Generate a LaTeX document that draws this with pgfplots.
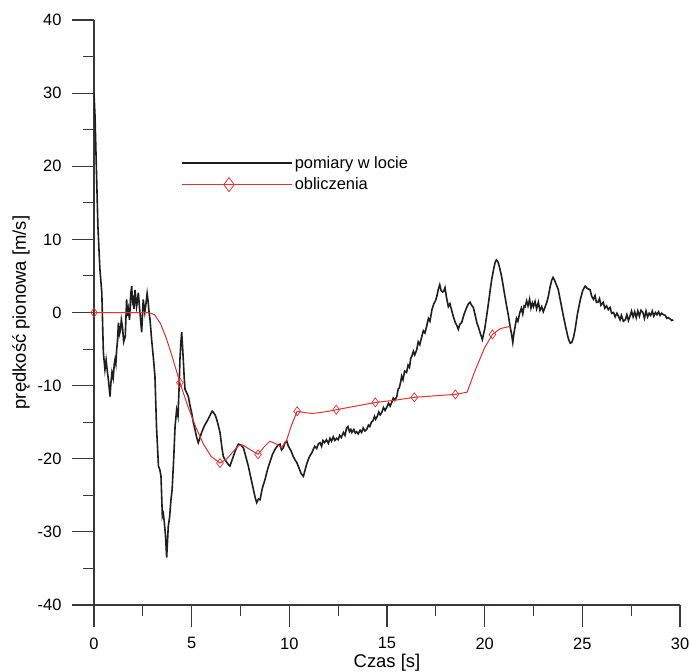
\documentclass[border=0pt]{standalone}
\usepackage{pgfplots}
\pgfplotsset{compat=1.18}
\usepackage{fontspec}
\setmainfont{Liberation Sans}
\definecolor{meas}{RGB}{30,30,30}
\definecolor{calc}{RGB}{232,48,48}
\definecolor{axc}{RGB}{60,55,55}
\begin{document}
\begin{tikzpicture}
\useasboundingbox (-94bp,-67bp) rectangle (596bp,605bp);
\begin{axis}[
 at={(0,0)}, anchor=south west,
 scale only axis, width=586bp, height=585bp,
 xmin=0, xmax=30, ymin=-40, ymax=40,
 axis x line=bottom, axis y line=left,
 axis line style={-, line width=1.1bp, axc},
 xtick={0,5,...,30}, ytick={-40,-30,...,40},
 minor x tick num=1, minor y tick num=1,
 tick align=outside, major tick length=22bp, minor tick length=11bp,
 every tick/.style={axc, line width=1.1bp},
 /pgf/number format/assume math mode=true,
 ticklabel style={font=\fontsize{16.5}{19}\selectfont},
 yticklabel style={xshift=-7bp},
 xticklabel style={yshift=-7bp},
 xlabel={Czas [s]}, ylabel={prędkość pionowa [m/s]},
 label style={font=\fontsize{18.5}{21}\selectfont},
 xlabel style={at={(axis description cs:0.5,-0.0838)}, anchor=north, inner sep=0pt},
 ylabel style={at={(axis description cs:-0.1246,0.5)}, anchor=center, inner sep=0pt},
 legend style={draw=none, fill=none, at={(axis cs:4.3,21.9)}, anchor=north west,
   font=\fontsize{16.5}{19}\selectfont, row sep=4bp},
 legend cell align=left,
]
\addplot[meas, line width=1.6bp,
  legend image code/.code={\path (0bp,0bp) -- (110bp,0bp); \draw[meas, line width=1.2bp] (0bp,0bp) -- (94bp,0bp);}]
 coordinates {
(0.00,30.0)(0.05,27)(0.12,20)(0.2,11.8)(0.3,6)(0.4,2.7)(0.48,-5.5)(0.56,-7.8)(0.62,-6.5)(0.68,-8)
(0.75,-9.5)(0.82,-11.5)(0.87,-9.5)(0.92,-8.2)(0.98,-9)(1.04,-7)(1.08,-6.4)(1.12,-7)(1.16,-5.1)(1.2,-4)
(1.25,-1.4)(1.3,-3)(1.35,-2.5)(1.4,-1)(1.46,-2)(1.52,-4)(1.6,-3.3)(1.67,1.8)(1.72,-0.5)(1.76,0.4)
(1.82,-1)(1.88,2.5)(1.93,3.6)(1.97,1.5)(2.0,1.8)(2.05,0.5)(2.1,3.1)(2.14,2)(2.18,0.8)(2.22,1.5)
(2.27,2.7)(2.32,1)(2.38,-0.8)(2.44,-2.7)(2.48,-0.5)(2.52,1.8)(2.56,0.8)(2.6,0)(2.66,1.2)(2.72,2.6)
(2.77,1.5)(2.82,0)(2.87,-1)(2.95,-3.7)(3.05,-6.5)(3.12,-8.7)(3.2,-15.6)(3.3,-21)(3.37,-21.5)(3.43,-22.4)
(3.5,-27.9)(3.55,-27.5)(3.6,-28.7)(3.66,-30.5)(3.72,-33.5)(3.77,-31)(3.8,-29.3)(3.87,-28)(3.94,-25.6)(4.0,-24.2)
(4.08,-20)(4.15,-15.6)(4.23,-13.3)(4.3,-14.2)(4.36,-10)(4.4,-6.4)(4.45,-4)(4.49,-2.7)(4.53,-4.5)(4.57,-6.4)
(4.62,-9)(4.66,-10.5)(4.75,-11)(4.83,-11.5)(4.92,-12.8)(5.0,-13.7)(5.08,-15)(5.17,-16)(5.25,-17)(5.34,-17.8)
(5.42,-17.2)(5.51,-16.4)(5.65,-15.5)(5.8,-14.8)(5.95,-14)(6.05,-13.5)(6.12,-13.7)(6.2,-14)(6.28,-14.6)(6.36,-15.4)
(6.45,-16.4)(6.55,-18.5)(6.62,-19.7)(6.72,-20.2)(6.8,-20.5)(6.88,-20.8)(6.96,-21)(7.05,-20.3)(7.13,-19.7)(7.25,-18.8)
(7.39,-18)(7.5,-18.1)(7.65,-18.5)(7.78,-19.8)(7.9,-21)(8.03,-22.6)(8.16,-24.2)(8.25,-25.3)(8.33,-26)(8.42,-25.5)
(8.5,-25.6)(8.62,-24)(8.76,-22.8)(8.88,-21.5)(9.0,-20.5)(9.14,-19.4)(9.27,-18.7)(9.4,-18.2)(9.52,-18)(9.6,-18.8)
(9.69,-18.5)(9.78,-17.8)(9.87,-17.6)(9.94,-18.2)(10.0,-18.5)(10.1,-19)(10.2,-19.7)(10.3,-20.2)(10.38,-20.5)(10.5,-21.3)
(10.6,-22)(10.72,-22.4)(10.8,-21.6)(10.88,-20.8)(10.97,-20.1)(11.05,-19.6)(11.15,-19.2)(11.23,-18.7)(11.3,-18.3)(11.4,-18.6)
(11.48,-18)(11.57,-17.8)(11.65,-18.3)(11.72,-17.5)(11.8,-17.8)(11.9,-17.4)(12.0,-17.9)(12.08,-17.2)(12.16,-17.6)(12.25,-17)
(12.33,-17.5)(12.42,-17.2)(12.5,-17.4)(12.58,-16.8)(12.66,-17.1)(12.77,-16.4)(12.85,-16.8)(12.93,-15.8)(13.0,-15.6)(13.08,-16.3)
(13.15,-16)(13.2,-16.4)(13.3,-16)(13.38,-16.5)(13.45,-16.3)(13.53,-16.6)(13.62,-16.1)(13.7,-16.4)(13.78,-15.8)(13.87,-16.2)
(13.96,-16)(14.05,-15.4)(14.12,-15.6)(14.2,-15)(14.28,-14.8)(14.36,-14.2)(14.42,-14.6)(14.5,-14.2)(14.58,-13.6)(14.65,-14)
(14.73,-13.7)(14.82,-13)(14.9,-13.4)(15.0,-12.9)(15.08,-12.4)(15.16,-12.8)(15.24,-12.3)(15.32,-11.7)(15.4,-12)(15.5,-11.5)
(15.57,-10.5)(15.63,-10.3)(15.7,-9.5)(15.75,-8.7)(15.82,-9.2)(15.9,-8)(16.0,-8.2)(16.08,-7.2)(16.15,-7.5)(16.22,-6.2)
(16.27,-6)(16.35,-5.3)(16.42,-5.8)(16.52,-5.1)(16.6,-4)(16.68,-4.4)(16.78,-3.3)(16.86,-2.5)(16.94,-2.8)(17.03,-1.9)
(17.12,-0.8)(17.2,-1.2)(17.3,0.4)(17.4,1.2)(17.48,1.6)(17.55,2.2)(17.63,3.2)(17.7,3.8)(17.77,3.0)(17.84,2.8)
(17.9,2.9)(17.97,3.4)(18.05,2)(18.14,0.8)(18.22,1.2)(18.3,0.4)(18.4,-0.6)(18.5,-1.4)(18.58,-1.8)(18.65,-2.3)
(18.73,-1.6)(18.82,-1.4)(18.95,-0.2)(19.08,0.7)(19.17,1.2)(19.25,1.4)(19.33,1.0)(19.42,0.7)(19.5,-0.2)(19.6,-1.4)
(19.68,-2)(19.76,-2.7)(19.82,-3.2)(19.88,-3.7)(19.94,-3)(20.0,-2.3)(20.1,-0.5)(20.2,1.4)(20.28,3)(20.36,4.5)
(20.45,5.8)(20.53,6.8)(20.6,7.2)(20.67,7.0)(20.75,6.3)(20.87,4.9)(21.0,2.8)(21.13,0.8)(21.22,-0.5)(21.3,-1.9)
(21.38,-3)(21.44,-4.1)(21.5,-2.8)(21.56,-1.9)(21.63,-0.8)(21.7,-1.2)(21.8,0)(21.88,0.6)(21.95,-0.2)(22.02,0.9)
(22.07,0.8)(22.15,1.6)(22.22,0.9)(22.3,1.8)(22.37,0.6)(22.44,1.3)(22.5,0.8)(22.58,1.5)(22.66,0.5)(22.75,1.4)
(22.83,0.3)(22.92,0.8)(23.0,0.1)(23.1,0.8)(23.18,1.4)(23.26,2.2)(23.35,3.5)(23.43,4.4)(23.5,4.8)(23.58,4.4)
(23.67,3.8)(23.77,3.1)(23.9,1.3)(24.03,-0.5)(24.15,-2)(24.25,-3.2)(24.3,-3.7)(24.38,-4.2)(24.46,-4.1)(24.55,-3.4)
(24.63,-2.3)(24.75,-0.2)(24.9,1.8)(25.02,3)(25.14,3.6)(25.25,3.3)(25.4,3.1)(25.48,2.2)(25.57,1.8)(25.65,2.3)
(25.72,1.4)(25.8,1.4)(25.88,1.9)(25.95,1.0)(26.07,1.4)(26.15,0.6)(26.24,0.9)(26.33,0.4)(26.42,0.7)(26.5,-0.1)
(26.6,0)(26.68,-0.6)(26.77,-0.1)(26.85,-0.5)(26.93,-1.0)(27.0,-0.4)(27.1,-1.2)(27.2,-1.0)(27.28,-0.3)(27.36,-1.1)
(27.44,-0.5)(27.52,0.2)(27.6,-0.6)(27.68,0.1)(27.76,-0.7)(27.84,0.2)(27.92,-0.5)(28.0,0.3)(28.1,0)(28.18,-0.8)
(28.26,0.2)(28.34,-0.6)(28.42,-0.1)(28.5,-0.4)(28.58,0.2)(28.66,-0.5)(28.74,0)(28.82,-0.3)(28.9,0.1)(28.98,-0.4)
(29.06,-0.1)(29.15,-0.3)(29.25,-0.4)(29.32,-0.8)(29.4,-0.7)(29.5,-0.9)(29.58,-1.1)(29.66,-1.0)
};
\addlegendentry{pomiary w locie}
\addplot[calc, line width=1bp,
  legend image code/.code={\path (0bp,0bp) -- (110bp,0bp); \draw[calc, line width=1bp] (0bp,0bp) -- (94bp,0bp);
    \draw[calc, line width=0.8bp] plot[mark=diamond, mark size=7bp] coordinates {(47bp,0bp)};}]
 coordinates {
(0,0)(1,0)(2,0)(2.8,0)(3.1,-0.3)(3.4,-1.5)(3.7,-3.5)(4.0,-6)(4.4,-9.6)(4.8,-12.8)
(5.2,-15.6)(5.6,-18)(6.0,-19.7)(6.45,-20.6)(6.8,-20.0)(7.1,-19.1)(7.4,-18.2)(7.6,-18.1)(7.9,-18.6)(8.4,-19.4)
(8.7,-18.4)(9.0,-17.6)(9.35,-18)(9.6,-18.5)(9.87,-17.4)(10.1,-15.5)(10.4,-13.5)(10.8,-13.7)(11.2,-13.8)(11.8,-13.6)
(12.4,-13.3)(13.4,-12.8)(14.4,-12.3)(15.4,-12.0)(16.4,-11.6)(17.4,-11.4)(18.5,-11.2)(19.1,-10.9)(19.5,-8)(20.0,-4.8)
(20.4,-3.0)(20.8,-2.2)(21.3,-1.9)
};
\addlegendentry{obliczenia}
\addplot[calc, only marks, mark=diamond, mark size=4.5bp, mark options={line width=0.7bp}, forget plot]
 coordinates {(0,0)(4.4,-9.6)(6.45,-20.6)(8.4,-19.4)(10.4,-13.5)(12.4,-13.3)(14.4,-12.3)(16.4,-11.6)(18.5,-11.2)(20.4,-3.0)};
\end{axis}
\end{tikzpicture}
\end{document}
